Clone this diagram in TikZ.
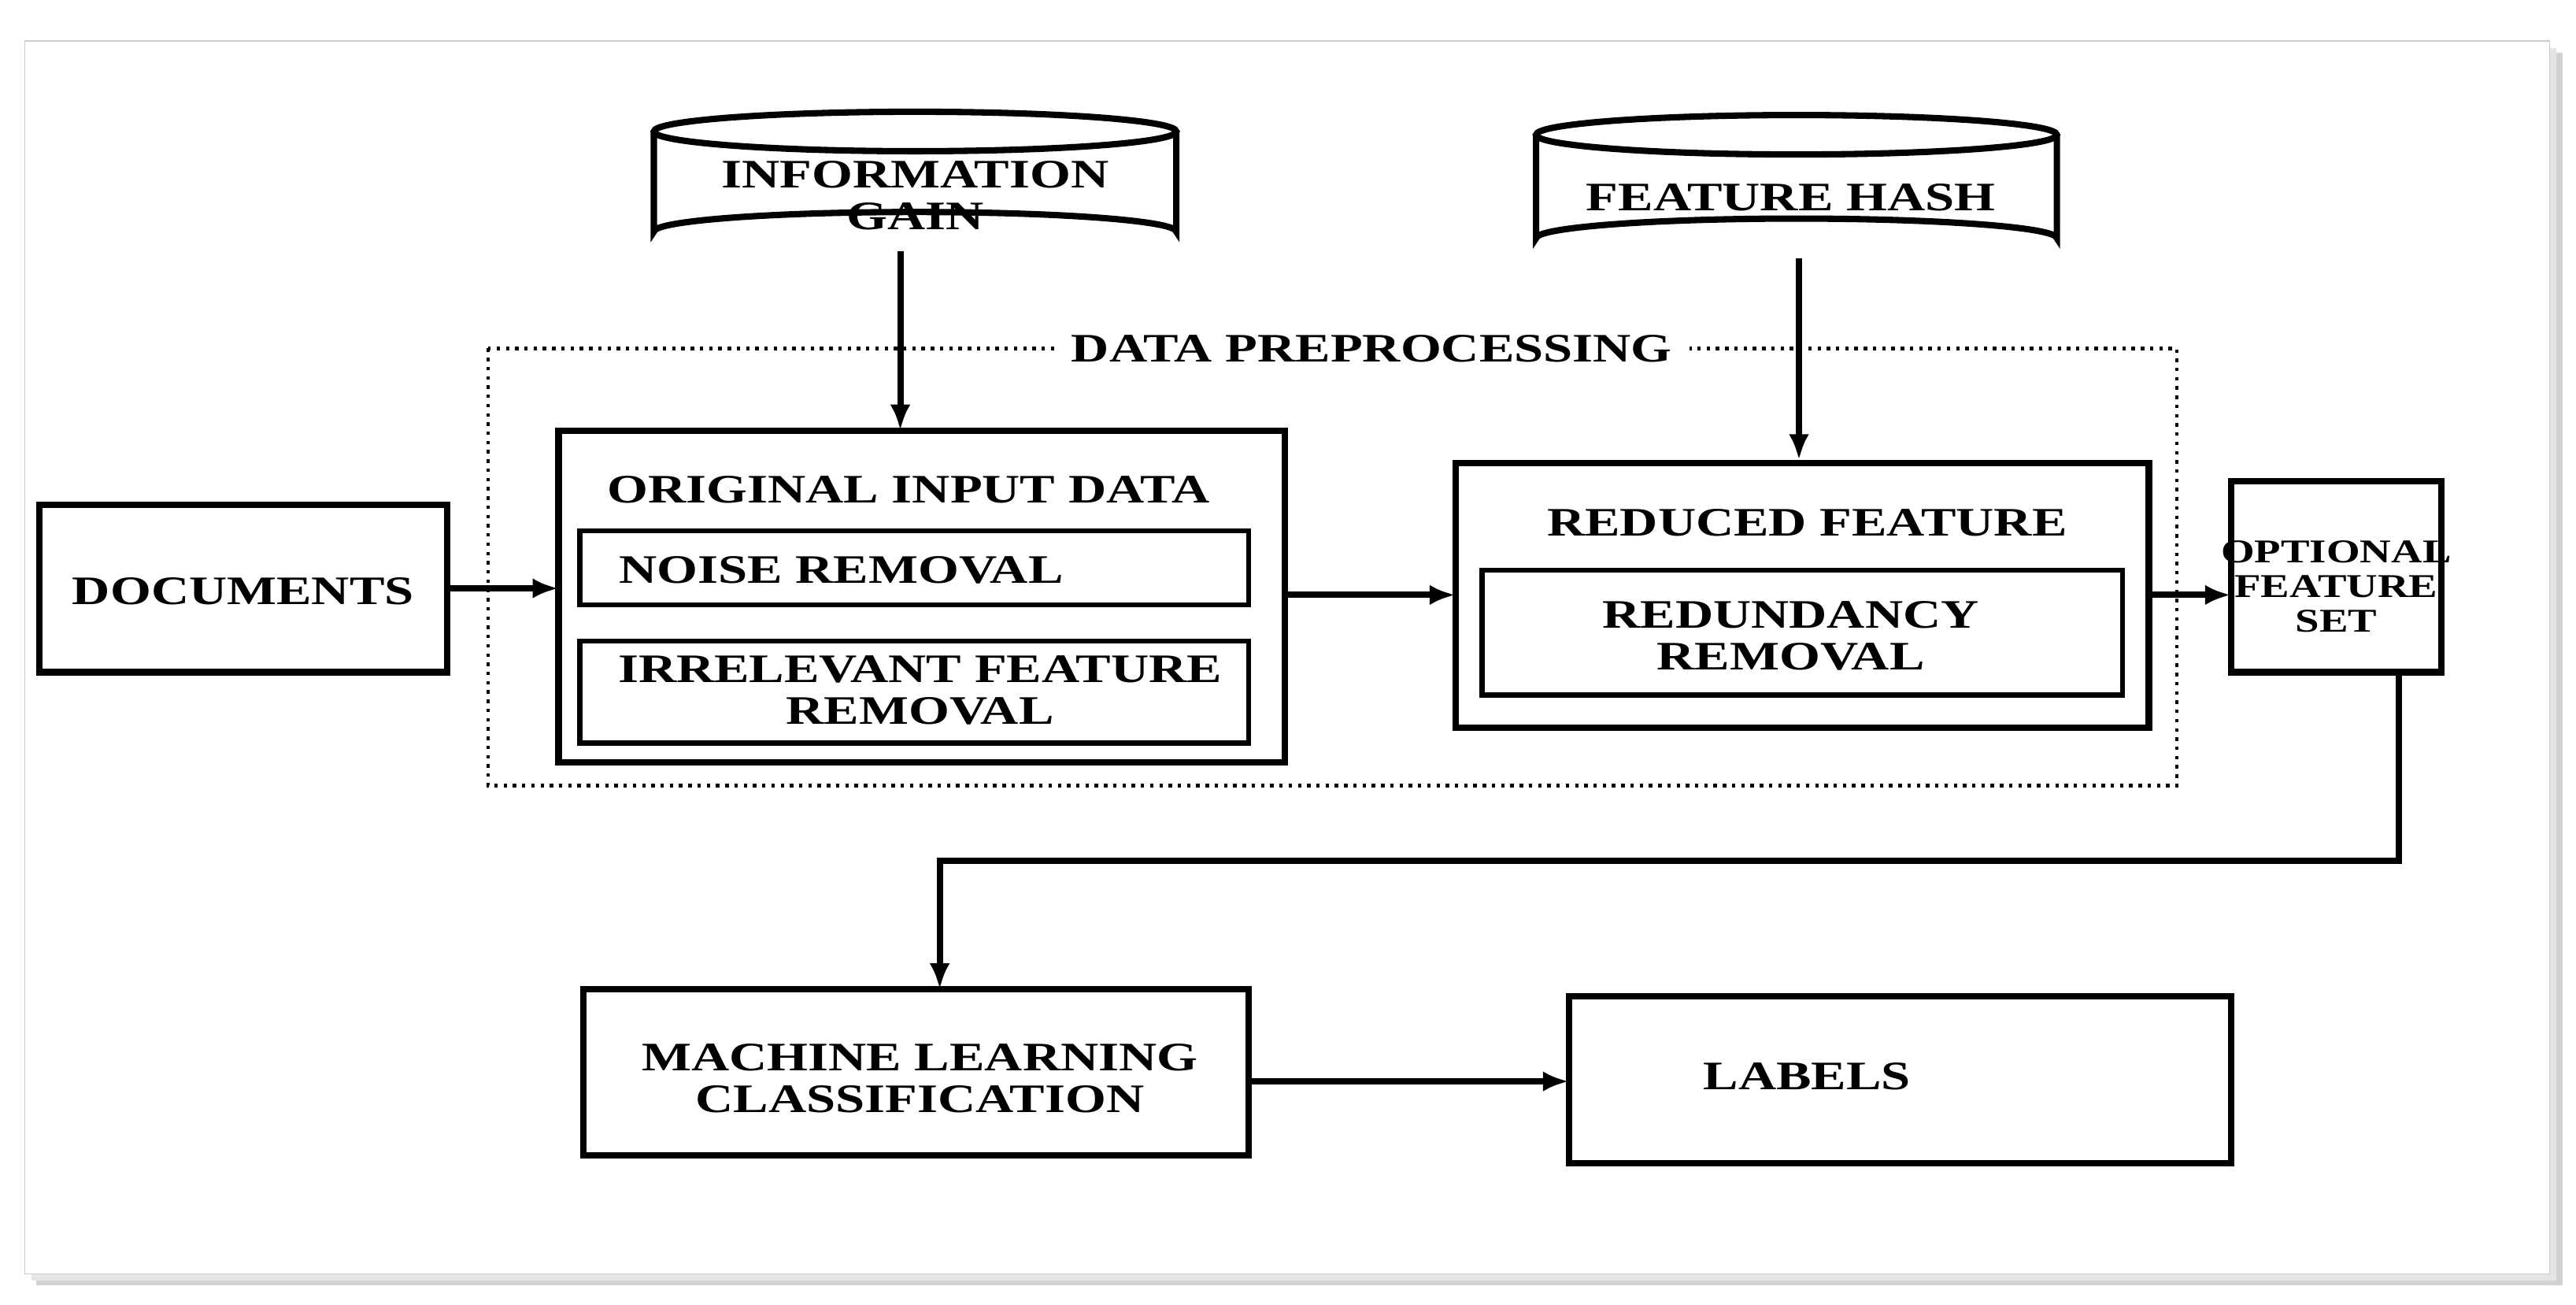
\documentclass[tikz,border=0pt]{standalone}
\usepackage{fontspec}
\setmainfont[FakeStretch=1.3]{Liberation Serif}
\usetikzlibrary{arrows.meta}
\begin{document}
\begin{tikzpicture}[x=0.02cm,y=-0.02cm,
  lbl/.style={align=center,font=\fontsize{14}{14.5}\selectfont\bfseries,inner sep=1pt},
  arr/.style={line width=2.2pt,-{Latex[length=9pt,width=7pt]}},
  cyl/.style={line width=2.2pt,fill=white}]
\useasboundingbox (0,0) rectangle (1568,794);
\fill[gray!35] (22,32) rectangle (1560,782);
\fill[gray!20] (19,29) rectangle (1556,779);
\draw[gray!40,fill=white] (15,25) rectangle (1552,775);
% cylinders
\draw[cyl] (398,80) -- (398,141) arc[start angle=180,end angle=360,x radius=159,y radius=12] -- (716,80);
\draw[cyl] (557,80) ellipse[x radius=159,y radius=12];
\node[lbl] (ig) at (557,119) {INFORMATION\\GAIN};
\coordinate (igb) at (548,153);
\draw[cyl] (935,82) -- (935,145) arc[start angle=180,end angle=360,x radius=158.5,y radius=12] -- (1252,82);
\draw[cyl] (1093.5,82) ellipse[x radius=158.5,y radius=12];
\node[lbl] (fh) at (1090,120) {FEATURE HASH};
\coordinate (fhb) at (1095,157);
% dotted region
\draw[line width=1.2pt,dotted] (297,212) rectangle (1325,478);
\node[lbl,fill=white,inner xsep=6pt] (dp) at (835,212) {DATA PREPROCESSING};
% boxes
\draw[line width=2.2pt] (24,307) rectangle (272,409);
\node[lbl] (docs) at (148,360) {DOCUMENTS};
\draw[line width=2.2pt] (340,262) rectangle (782,464);
\coordinate (oin) at (340,358); \coordinate (oout) at (782,362); \coordinate (otop) at (548,262);
\node[lbl] (ot) at (553,298) {ORIGINAL INPUT DATA};
\draw[line width=1.8pt] (353,323) rectangle (760,368);
\node[lbl] (nr) at (512,347) {NOISE REMOVAL};
\draw[line width=1.8pt] (353,390) rectangle (760,452);
\node[lbl] (ir) at (560,420) {IRRELEVANT FEATURE\\REMOVAL};
\draw[line width=2.2pt] (886,282) rectangle (1308,443);
\coordinate (rin) at (886,362); \coordinate (rout) at (1308,362); \coordinate (rtop) at (1095,280);
\node[lbl] (rt) at (1100,318) {REDUCED FEATURE};
\draw[line width=1.8pt] (902,347) rectangle (1292,423);
\node[lbl] (rr) at (1090,387) {REDUNDANCY\\REMOVAL};
\draw[line width=2.2pt] (1358,293) rectangle (1486,409);
\node[lbl,font=\fontsize{11.5}{12}\selectfont\bfseries] (opt) at (1422,357) {OPTIONAL\\FEATURE\\SET};
\coordinate (oin2) at (1358,362); \coordinate (obot) at (1460,409);
\draw[line width=2.2pt] (355,602) rectangle (760,703);
\node[lbl] (ml) at (560,656) {MACHINE LEARNING\\CLASSIFICATION};
\coordinate (mltop) at (572,602); \coordinate (mlout) at (760,658);
\draw[line width=2.2pt] (955,606) rectangle (1358,708);
\node[lbl] (lab) at (1100,655) {LABELS};
\coordinate (labin) at (955,658);
\coordinate (docout) at (272,358);
% arrows
\draw[arr] (igb) -- (otop);
\draw[arr] (fhb) -- (rtop);
\draw[arr] (docout) -- (oin);
\draw[arr] (oout) -- (rin);
\draw[arr] (rout) -- (oin2);
\draw[arr] (obot) |- (1000,524) -| (mltop);
\draw[arr] (mlout) -- (labin);
\end{tikzpicture}
\end{document}
